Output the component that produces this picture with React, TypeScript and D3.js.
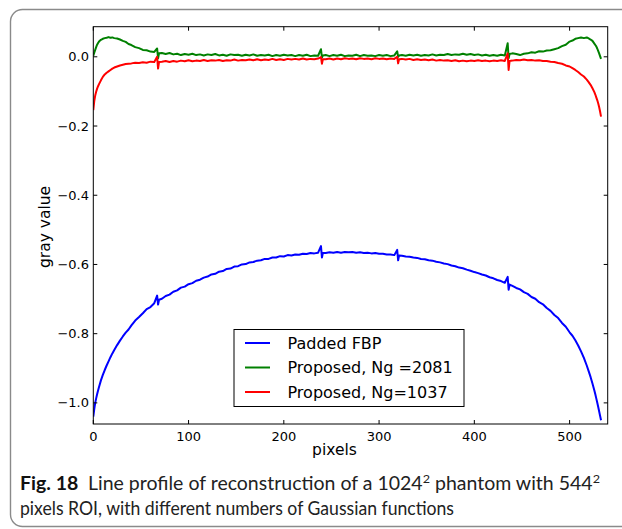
import React from 'react';
import * as d3 from 'd3';

// x positions (pixels) shared by the three profiles
const pixels = [
  0, 1, 2, 3, 4, 5, 6, 8, 10, 12, 14, 16, 18, 20, 22, 25, 28, 31, 34, 37, 40, 44, 48, 52, 56, 60, 64,
  67, 68, 69,
  72, 76, 80, 84, 88, 92, 96, 100, 104, 108, 112, 116, 120, 124, 128, 132, 136, 140, 144, 148, 152, 156, 160,
  164, 168, 172, 176, 180, 184, 188, 192, 196, 200, 204, 208, 212, 216, 220, 224, 228, 232, 236,
  239, 240, 241,
  244, 248, 252, 256, 260, 264, 268, 272, 276, 280, 284, 288, 292, 296, 300, 304, 308, 312, 316,
  319, 320, 321,
  324, 328, 332, 336, 340, 344, 348, 352, 356, 360, 364, 368, 372, 376, 380, 384, 388, 392, 396, 400, 404,
  408, 412, 416, 420, 424, 428, 432,
  435, 436, 437,
  440, 444, 448, 452, 456, 460, 464, 468, 472, 476, 480, 484, 488, 492, 496, 500,
  503, 506, 509, 512, 515, 518, 520, 522, 524, 526, 527, 528, 529, 530, 531, 532, 533,
];

const paddedFBP = [
  -1.040, -1.018, -1.000, -0.987, -0.975, -0.964, -0.954, -0.935, -0.919, -0.905, -0.892, -0.880, -0.868, -0.857,
  -0.847, -0.833, -0.820, -0.808, -0.797, -0.788, -0.776, -0.762, -0.752, -0.741, -0.729, -0.723, -0.712,
  -0.690, -0.716, -0.702,
  -0.699, -0.691, -0.687, -0.679, -0.675, -0.667, -0.664, -0.657, -0.654, -0.647, -0.644, -0.638, -0.635, -0.629,
  -0.627, -0.621, -0.619, -0.613, -0.612, -0.606, -0.605, -0.600, -0.599, -0.594, -0.593, -0.589, -0.588, -0.584,
  -0.584, -0.580, -0.580, -0.576, -0.577, -0.573, -0.574, -0.571, -0.572, -0.569, -0.570, -0.567, -0.568, -0.566,
  -0.547, -0.580, -0.567,
  -0.567, -0.565, -0.566, -0.564, -0.566, -0.564, -0.565, -0.564, -0.566, -0.565, -0.567, -0.566, -0.568, -0.567,
  -0.569, -0.569, -0.571, -0.571, -0.573,
  -0.558, -0.588, -0.574,
  -0.575, -0.577, -0.578, -0.580, -0.581, -0.584, -0.585, -0.588, -0.589, -0.592, -0.594, -0.597, -0.599, -0.603,
  -0.605, -0.609, -0.611, -0.615, -0.618, -0.622, -0.625, -0.629, -0.632, -0.637, -0.640, -0.645, -0.648, -0.653,
  -0.636, -0.673, -0.658,
  -0.662, -0.668, -0.672, -0.680, -0.685, -0.694, -0.699, -0.709, -0.715, -0.726, -0.734, -0.746, -0.755, -0.769,
  -0.780, -0.796,
  -0.806, -0.819, -0.834, -0.851, -0.870, -0.892, -0.908, -0.925, -0.944, -0.964, -0.975, -0.987, -0.999, -1.011,
  -1.024, -1.037, -1.050,
];

const proposedNg2081 = [
  0.003, 0.012, 0.020, 0.028, 0.035, 0.040, 0.044, 0.049, 0.052, 0.054, 0.055, 0.057, 0.055, 0.056,
  0.054, 0.053, 0.050, 0.046, 0.043, 0.037, 0.034, 0.028, 0.025, 0.020, 0.019, 0.015, 0.014,
  0.024, -0.004, 0.010,
  0.011, 0.008, 0.011, 0.007, 0.009, 0.005, 0.008, 0.006, 0.009, 0.005, 0.007, 0.004, 0.007, 0.005,
  0.008, 0.004, 0.006, 0.003, 0.007, 0.005, 0.006, 0.003, 0.006, 0.004, 0.007, 0.003, 0.005, 0.004,
  0.006, 0.002, 0.005, 0.003, 0.006, 0.004, 0.005, 0.002, 0.005, 0.003, 0.006, 0.002, 0.004, 0.003,
  0.022, -0.002, 0.004,
  0.005, 0.002, 0.005, 0.003, 0.006, 0.002, 0.004, 0.003, 0.006, 0.002, 0.005, 0.003, 0.004, 0.002,
  0.005, 0.003, 0.005, 0.002, 0.004,
  0.016, 0.000, 0.004,
  0.005, 0.003, 0.006, 0.004, 0.006, 0.003, 0.005, 0.004, 0.007, 0.004, 0.006, 0.005, 0.008, 0.005,
  0.007, 0.006, 0.009, 0.006, 0.008, 0.005, 0.007, 0.004, 0.006, 0.003, 0.005, 0.003, 0.006, 0.004,
  0.039, -0.004, 0.008,
  0.010, 0.008, 0.005, 0.009, 0.010, 0.013, 0.012, 0.016, 0.015, 0.018, 0.019, 0.022, 0.025, 0.031,
  0.035, 0.044,
  0.047, 0.052, 0.054, 0.056, 0.054, 0.056, 0.053, 0.050, 0.046, 0.038, 0.034, 0.030, 0.024, 0.017,
  0.010, 0.002, -0.006,
];

const proposedNg1037 = [
  -0.154, -0.128, -0.112, -0.101, -0.092, -0.085, -0.079, -0.068, -0.058, -0.051, -0.046, -0.042, -0.038, -0.034,
  -0.031, -0.028, -0.025, -0.023, -0.021, -0.020, -0.019, -0.017, -0.018, -0.016, -0.017, -0.014, -0.015,
  0.000, -0.034, -0.015,
  -0.014, -0.012, -0.015, -0.012, -0.014, -0.011, -0.013, -0.010, -0.013, -0.011, -0.012, -0.009, -0.012, -0.010,
  -0.011, -0.009, -0.012, -0.010, -0.011, -0.008, -0.011, -0.009, -0.010, -0.008, -0.010, -0.007, -0.010, -0.008,
  -0.009, -0.006, -0.009, -0.007, -0.009, -0.006, -0.008, -0.006, -0.008, -0.005, -0.008, -0.006, -0.007, -0.005,
  -0.001, -0.020, -0.007,
  -0.007, -0.005, -0.008, -0.005, -0.007, -0.004, -0.006, -0.005, -0.007, -0.004, -0.006, -0.005, -0.007, -0.004,
  -0.006, -0.005, -0.007, -0.005, -0.006,
  0.000, -0.019, -0.007,
  -0.006, -0.008, -0.006, -0.009, -0.007, -0.009, -0.008, -0.010, -0.008, -0.011, -0.009, -0.011, -0.010, -0.012,
  -0.010, -0.013, -0.011, -0.013, -0.011, -0.012, -0.010, -0.012, -0.011, -0.013, -0.011, -0.012, -0.010, -0.012,
  0.010, -0.038, -0.012,
  -0.011, -0.009, -0.010, -0.008, -0.010, -0.009, -0.011, -0.010, -0.012, -0.012, -0.014, -0.015, -0.018, -0.020,
  -0.025, -0.028,
  -0.033, -0.038, -0.044, -0.051, -0.057, -0.066, -0.073, -0.081, -0.091, -0.102, -0.109, -0.117, -0.125, -0.134,
  -0.145, -0.158, -0.173,
];

const xTicks = [0, 100, 200, 300, 400, 500];
const yTicks = [0.0, -0.2, -0.4, -0.6, -0.8, -1.0];
const seriesLabels = ['Padded FBP', 'Proposed, Ng =2081', 'Proposed, Ng=1037'];
const seriesColors = ['#0000ff', '#008000', '#ff0000'];
const xLabel = 'pixels';
const yLabel = 'gray value';

export default function App() {
  const left = 93.3, right = 607.7, top = 26.7, bottom = 424;
  const x = d3.scaleLinear().domain([0, 540]).range([left, right]);
  const y = d3.scaleLinear().domain([0.087, -1.061]).range([top, bottom]);
  const fmt = d3.format('.1f');
  const series = [paddedFBP, proposedNg2081, proposedNg1037];
  const line = d3.line<number>().x((_, i) => x(pixels[i])).y((d) => y(d));
  const tickFont = "'DejaVu Sans', sans-serif";
  const tl = 4;

  const legX = 234, legY = 329.5, legW = 230, legH = 77;

  return (
    <svg width={622} height={529} style={{ position: 'absolute', left: 0, top: 0, background: '#fff' }}>
      <rect x={0} y={0} width={622} height={529} fill="#fff" />
      <rect x={10.5} y={9.5} width={700} height={517} rx={12} fill="none" stroke="#8a8a8a" strokeWidth={1.4} />

      <defs>
        <clipPath id="plotclip">
          <rect x={left} y={top} width={right - left} height={bottom - top} />
        </clipPath>
      </defs>
      <g clipPath="url(#plotclip)">
        {series.map((s, k) => (
          <path key={k} d={line(s) || ''} fill="none" stroke={seriesColors[k]} strokeWidth={2} strokeLinejoin="round" />
        ))}
      </g>

      <rect x={left} y={top} width={right - left} height={bottom - top} fill="none" stroke="#000" strokeWidth={1} />

      {xTicks.map((t) => (
        <g key={'x' + t}>
          <line x1={x(t)} x2={x(t)} y1={bottom} y2={bottom - tl} stroke="#000" />
          <line x1={x(t)} x2={x(t)} y1={top} y2={top + tl} stroke="#000" />
          <text x={x(t)} y={436} textAnchor="middle" dominantBaseline="central" fontFamily={tickFont} fontSize={13} fill="#000">
            {t}
          </text>
        </g>
      ))}
      {yTicks.map((t) => (
        <g key={'y' + t}>
          <line x1={left} x2={left + tl} y1={y(t)} y2={y(t)} stroke="#000" />
          <line x1={right} x2={right - tl} y1={y(t)} y2={y(t)} stroke="#000" />
          <text x={89} y={y(t)} textAnchor="end" dominantBaseline="central" fontFamily={tickFont} fontSize={13} fill="#000">
            {fmt(t)}
          </text>
        </g>
      ))}

      <text x={334.5} y={455} textAnchor="middle" fontFamily={tickFont} fontSize={15.5} fill="#000">
        {xLabel}
      </text>
      <text transform="translate(49.5,227) rotate(-90)" textAnchor="middle" fontFamily={tickFont} fontSize={15.5} fill="#000">
        {yLabel}
      </text>

      <rect x={legX} y={legY} width={legW} height={legH} fill="#fff" stroke="#000" strokeWidth={1} />
      {seriesLabels.map((lab, k) => {
        const ry = 343 + k * 24.5;
        return (
          <g key={lab}>
            <line x1={245} x2={270} y1={ry} y2={ry} stroke={seriesColors[k]} strokeWidth={2} />
            <text x={287.5} y={ry} dominantBaseline="central" fontFamily={tickFont} fontSize={16} fill="#000">
              {lab}
            </text>
          </g>
        );
      })}

      <text x={20} y={490} fontFamily="Lato, 'Open Sans', sans-serif" fontSize={18.5} fill="#222" textLength={580} lengthAdjust="spacingAndGlyphs">
        <tspan fontWeight="bold" fill="#111">Fig. 18</tspan>
        <tspan>{'\u2002Line profile of reconstruction of a 1024'}</tspan>
        <tspan fontSize={12} dy={-7}>2</tspan>
        <tspan dy={7}>{' phantom with 544'}</tspan>
        <tspan fontSize={12} dy={-7}>2</tspan>
      </text>
      <text x={20} y={515} fontFamily="Lato, 'Open Sans', sans-serif" fontSize={18.5} fill="#222" textLength={434} lengthAdjust="spacingAndGlyphs">
        pixels ROI, with different numbers of Gaussian functions
      </text>
    </svg>
  );
}
